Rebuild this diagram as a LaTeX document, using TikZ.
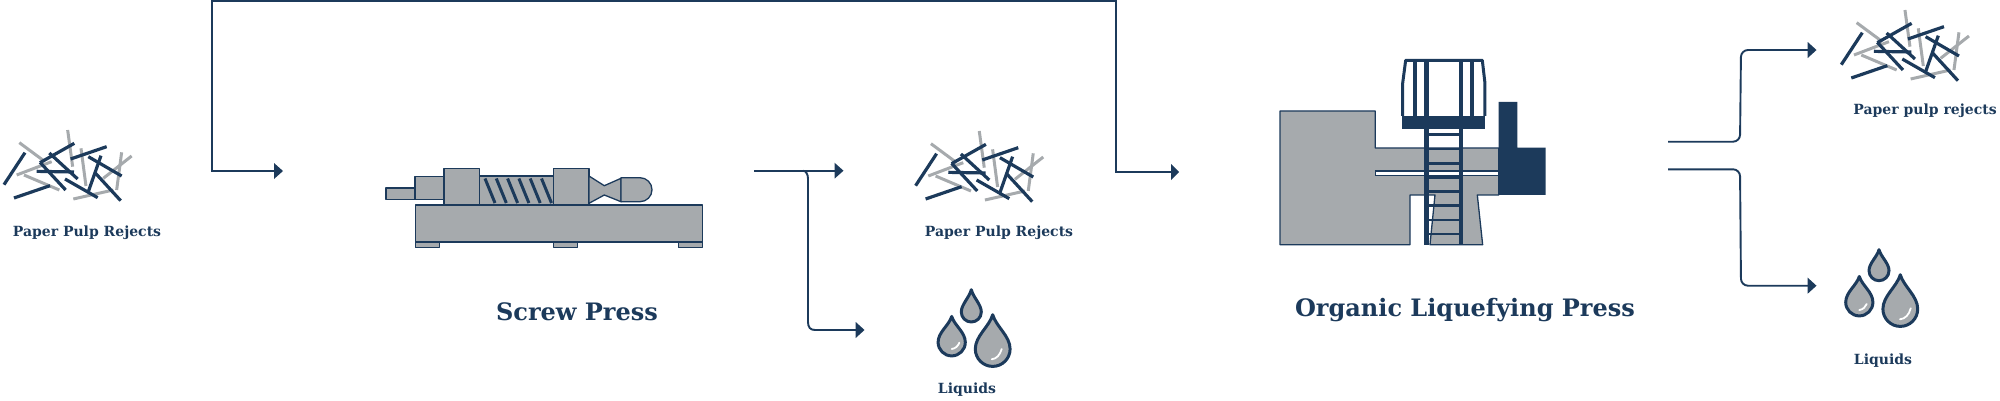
\documentclass[tikz,border=0pt]{standalone}
\usepackage{fontspec}
\setmainfont{DejaVu Serif}
\definecolor{navy}{HTML}{1C3A5B}
\definecolor{steel}{HTML}{A6AAAD}
\tikzset{
  x=1pt,y=-1pt,
  flow/.style={navy,line width=1.9pt},
  tipflow/.style={fill=navy,draw=none},
  greybar/.style={steel,line width=3pt},
  navybar/.style={navy,line width=3.2pt},
  part/.style={fill=steel,draw=navy,line width=1.3pt,line join=round},
  smalllabel/.style={navy,font=\fontsize{14}{16}\selectfont\bfseries,inner sep=0pt},
  biglabel/.style={navy,font=\fontsize{24}{27}\selectfont\bfseries,inner sep=0pt},
  pics/pile/.style={code={
    \begin{scope}[x=0.3333pt,y=-0.3333pt]
    \foreach \a/\b/\c/\d in {203/90/218/200,58/128/135/185,50/225/155/185,72/225/178/270,243/145/258/258,220/297/340/270,365/157/350/270,395/168/310/235}
      \draw[greybar] (\a,\b)--(\c,\d);
    \foreach \a/\b/\c/\d in {12/254/75/158,42/294/150/257,120/188/223/130,148/159/233/237,120/187/197/270,110/214/222/216,212/177/320/140,195/237/293/293,265/170/365/228,303/167/265/275,285/218/362/302}
      \draw[navybar] (\a,\b)--(\c,\d);
    \end{scope}}},
  pics/drop/.style 2 args={code={
    \draw[fill=steel,draw=navy,line width=3pt,line join=round]
      (0,-#1*#2) .. controls (#1*0.2,-#1*#2*0.65) and (#1,-#1*0.75) .. (#1,0)
      arc[start angle=0,end angle=180,radius=#1]
      .. controls (-#1,-#1*0.75) and (-#1*0.2,-#1*#2*0.65) .. cycle;}},
  shine/.style={white,line width=1.8pt,line cap=round}
}
\begin{document}
\begin{tikzpicture}
\useasboundingbox (0,0) rectangle (2000,400);
% piles
\pic at (0,100) {pile};
\pic at (911.6,101) {pile};
\pic at (1837.3,-20) {pile};
% screw press
\foreach \a/\b in {415.3/439.3,553.7/577.3,678.3/702.3}
  \draw[part] (\a,242) rectangle (\b,247.7);
\draw[part] (386,188) rectangle (415,199.3);
\draw[part] (415,176.7) rectangle (444,199.3);
\draw[part] (479.7,176) rectangle (553.7,205);
\foreach \i in {0,...,5}
  \draw[navy,line width=3pt] ({485+11.3*\i},178.5)--({495+11.3*\i},203);
\draw[part] (444,168.7) rectangle (479.7,205);
\draw[part] (553.7,168.7) rectangle (589,205);
\draw[part] (589,176)--(604.3,185.7)--(621,178.3)--(621,201.7)--(604.3,195)--(589,203.3)--cycle;
\draw[part] (621,177.7)--(640,177.7) arc[start angle=-90,end angle=90,radius=12]--(621,201.7)--cycle;
\draw[part] (415.3,205) rectangle (702.3,242);
% drops lower-mid
\pic at (971.3,312) {drop={10}{2.23}};
\pic at (951.7,342.3) {drop={13.6}{1.9}};
\pic at (992.7,349) {drop={17.4}{1.97}};
\draw[shine] (951.7,349) .. controls (955.5,348.5) and (958,346) .. (959.3,342.7);
\draw[shine] (991.7,359.3) .. controls (996.5,358.8) and (1000,355) .. (1001.7,349);
% drops right
\pic at (1879,270.7) {drop={10}{2.1}};
\pic at (1859.3,302.3) {drop={13.6}{1.9}};
\pic at (1900.3,309) {drop={17.4}{1.97}};
\draw[shine] (1859.3,310) .. controls (1863,309.5) and (1865.5,307) .. (1866.7,304);
\draw[shine] (1900,319.3) .. controls (1905,318.8) and (1909,315) .. (1910.7,308.3);
% liquefying press
\begin{scope}[shift={(1270,50)},x=0.3333pt,y=-0.3333pt]
\draw[part] (30,183)--(316,183)--(316,294)--(686,294)--(686,435)--(622,435)--(638,584)--(480,584)--(495,435)--(420,435)--(420,584)--(30,584)--cycle;
\draw[fill=white,draw=navy,line width=1.2pt] (316,363) rectangle (686,377);
\fill[navy] (686,156)--(742,156)--(742,293)--(827,293)--(827,435)--(686,435)--cycle;
\draw[navy,line width=3pt,line join=round] (398,198)--(398,100)--(407,31)--(637,31)--(645,100)--(645,198);
\fill[navy] (397,198) rectangle (646,236);
\fill[navy] (430,31) rectangle (441,198);
\fill[navy] (601,31) rectangle (612,198);
\fill[navy] (462,31) rectangle (476,584);
\fill[navy] (566,31) rectangle (580,584);
\foreach \y in {254,297,340,383,425,467,510,552}
  \fill[navy] (476,\y-4) rectangle (566,\y+4);
\end{scope}
% connectors
\coordinate (a0) at (212,171);
\coordinate (a1) at (275,171);
\coordinate (a2) at (1116,172);
\coordinate (a3) at (1172,172);
\draw[flow] (a1)-|(a0)|-(a2 |- 0,1)--(a2)--(a3);
\fill[tipflow] (283,171)--(274,163)--(274,179)--cycle;
\fill[tipflow] (1179,172)--(1171,164)--(1171,180)--cycle;
\coordinate (b0) at (754,170.7);
\coordinate (b1) at (836,170.7);
\coordinate (b2) at (803,170.7);
\coordinate (b3) at (857,330);
\draw[flow] (b0)--(b1);
\draw[flow] (b2) .. controls (806,171) and (808,174) .. (808,179) -- (808,322) .. controls (808,327) and (810,330) .. (815,330) -- (b3);
\fill[tipflow] (843.5,170.7)--(834.5,162.7)--(834.5,178.7)--cycle;
\fill[tipflow] (864.5,330)--(855.7,322)--(855.7,338)--cycle;
\coordinate (c0) at (1668,141.7);
\coordinate (c1) at (1809,50);
\coordinate (c2) at (1668,169.3);
\coordinate (c3) at (1809,285.7);
\draw[flow,rounded corners=7pt] (c0)--(1740,141.7)--(1741,50)--(c1);
\draw[flow,rounded corners=7pt] (c2)--(1740,169.3)--(1741,285.7)--(c3);
\fill[tipflow] (1816.5,50)--(1807.7,42)--(1807.7,58)--cycle;
\fill[tipflow] (1816.5,285.7)--(1807.7,277.7)--(1807.7,293.7)--cycle;
% labels
\node[smalllabel] (l1) at (87,233) {Paper Pulp Rejects};
\node[smalllabel] (l2) at (999,233) {Paper Pulp Rejects};
\node[smalllabel] (l3) at (967,390) {Liquids};
\node[smalllabel] (l4) at (1925,110.5) {Paper pulp rejects};
\node[smalllabel] (l5) at (1883,361) {Liquids};
\node[biglabel] (l6) at (577,312) {Screw Press};
\node[biglabel] (l7) at (1465,310) {Organic Liquefying Press};
\end{tikzpicture}
\end{document}
